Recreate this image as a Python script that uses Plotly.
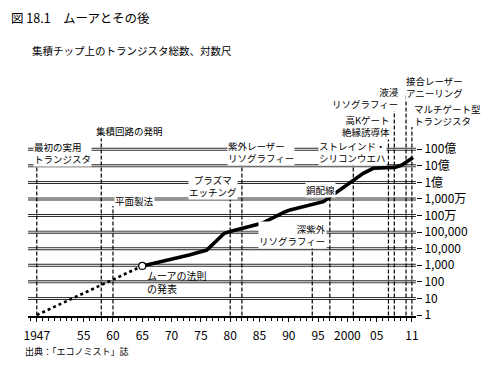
import plotly.graph_objects as go

# ---------------- data ----------------
# extrapolated (dotted) segment before Moore's 1965 paper
early_years = [1947, 1965]
early_counts = [1, 910]

# transistors per chip (solid curve)
curve_years = [1965, 1967, 1971, 1973, 1976, 1977.5, 1979, 1980.3, 1985.4, 1989.4,
               1990.2, 1995.9, 1996.7, 1999.9, 2002.7, 2004.4, 2008.1, 2009.3, 2011.2]
curve_counts = [910, 1300, 2600, 4200, 8300, 26000, 85000, 117000, 340000, 1700000,
                2200000, 6900000, 11000000, 70000000, 355000000, 710000000, 810000000,
                1120000000, 3200000000]

# technology milestones
event_years = [1947, 1958, 1960, 1980, 1982, 1994, 1997, 2001, 2007, 2008, 2010, 2011]
event_labels = [
    "最初の実用<br>トランジスタ",
    "集積回路の発明",
    "平面製法",
    "プラズマ<br>エッチング",
    "紫外レーザー<br>リソグラフィー",
    "深紫外<br>リソグラフィー",
    "銅配線",
    "ストレインド・<br>シリコンウエハ",
    "高Kゲート<br>絶縁誘導体",
    "液浸<br>リソグラフィー",
    "接合レーザー<br>アニーリング",
    "マルチゲート型<br>トランジスタ",
]
moore_label = "ムーアの法則<br>の発表"

# axis ticks
x_tickvals = [1947, 1955, 1960, 1965, 1970, 1975, 1980, 1985, 1990, 1995, 2000, 2005, 2011]
x_ticktext = ["1947", "55", "60", "65", "70", "75", "80", "85", "90", "95", "2000", "05", "11"]
y_tickvals = [1, 10, 100, 1e3, 1e4, 1e5, 1e6, 1e7, 1e8, 1e9, 1e10]
y_ticktext = ["1", "10", "100", "1,000", "10,000", "100,000", "100万", "1,000万", "1億", "10億", "100億"]

# ---------------- placement (layout only) ----------------
# top end of each milestone's dashed line (log10 units)
event_line_top = [9.11, 10.74, 6.58, 7.24, 9.17, 4.16, 7.24, 9.17, 10.74, 12.55, 13.28, 11.35]
# label placement: (x, xanchor, log10 y of label centre)
event_label_pos = [
    (1946.35, "left", 9.80),
    (1956.93, "left", 11.13),
    (1960.17, "left", 6.88),
    (1976.98, "center", 7.78),
    (1979.45, "left", 9.86),
    (1996.52, "right", 4.81),
    (1995.32, "center", 7.54),
    (1994.98, "left", 9.86),
    (2007.43, "right", 11.40),
    (2008.90, "right", 13.07),
    (2009.82, "left", 13.77),
    (2011.19, "left", 12.05),
]
moore_label_pos = (1965.46, 2.02)

XR = [1945.5, 2011.7]
YR = [-0.06, 14.48]
JP = "Noto Sans CJK JP"
NUM = "Liberation Sans Narrow, Noto Sans CJK JP"

fig = go.Figure()

# gridlines (double lines: dark wide line with white core)
for v in y_tickvals[1:]:
    fig.add_trace(go.Scatter(x=XR, y=[v, v], mode="lines",
                             line=dict(color="#2a2a2a", width=3),
                             hoverinfo="skip", showlegend=False))
    fig.add_trace(go.Scatter(x=XR, y=[v, v], mode="lines",
                             line=dict(color="white", width=1),
                             hoverinfo="skip", showlegend=False))

# milestone dashed lines
for yr, top in zip(event_years, event_line_top):
    fig.add_trace(go.Scatter(x=[yr, yr], y=[0.93, 10 ** top], mode="lines",
                             line=dict(color="black", width=1.2, dash="4px,2px"),
                             hoverinfo="skip", showlegend=False))

# dotted extrapolation
fig.add_trace(go.Scatter(x=early_years, y=early_counts, mode="lines",
                         line=dict(color="black", width=2.6, dash="dot"),
                         hoverinfo="skip", showlegend=False))
# main curve
fig.add_trace(go.Scatter(x=curve_years, y=curve_counts, mode="lines",
                         line=dict(color="black", width=3.6),
                         hoverinfo="skip", showlegend=False))
# Moore's law marker
fig.add_trace(go.Scatter(x=[curve_years[0]], y=[curve_counts[0]], mode="markers",
                         marker=dict(symbol="circle", size=7, color="white",
                                     line=dict(color="black", width=1.2)),
                         hoverinfo="skip", showlegend=False))

annotations = []
for txt, (xv, anchor, yv) in zip(event_labels, event_label_pos):
    annotations.append(dict(x=xv, y=yv, xref="x", yref="y", text=txt,
                            showarrow=False, xanchor=anchor, yanchor="middle",
                            align=anchor, bgcolor="white", borderpad=0,
                            font=dict(family=JP, size=9.5, color="black")))

annotations.append(dict(x=moore_label_pos[0], y=moore_label_pos[1], xref="x", yref="y",
                        text=moore_label, showarrow=False, xanchor="left",
                        yanchor="middle", align="left",
                        font=dict(family=JP, size=10, color="black")))

# titles and source (paper coords relative to plot area)
annotations += [
    dict(x=-0.0464, y=1.2373, xref="paper", yref="paper", text="図 18.1　ムーアとその後",
         showarrow=False, xanchor="left", yanchor="middle", borderpad=0,
         font=dict(family=JP, size=12.5, color="black")),
    dict(x=0.005, y=1.1037, xref="paper", yref="paper",
         text="集積チップ上のトランジスタ総数、対数尺",
         showarrow=False, xanchor="left", yanchor="middle",
         font=dict(family=JP, size=10.5, color="black")),
    dict(x=-0.0129, y=-0.149, xref="paper", yref="paper", text="出典：「エコノミスト」誌",
         showarrow=False, xanchor="left", yanchor="middle",
         font=dict(family=JP, size=9, color="black")),
]

# page body has an 8px margin: figure is sized so it ends at the window edge
fig.update_layout(
    width=484, height=361,
    margin=dict(l=20, r=76, t=67, b=53),
    paper_bgcolor="white", plot_bgcolor="white",
    showlegend=False,
    annotations=annotations,
    xaxis=dict(range=XR, tickvals=x_tickvals, ticktext=x_ticktext,
               showgrid=False, zeroline=False, showline=True,
               linecolor="black", linewidth=1.5,
               ticks="outside", ticklen=4, tickcolor="black", tickwidth=1,
               ticklabelstandoff=4,
               minor=dict(dtick=1, tick0=1947, ticks="outside", ticklen=3,
                          tickcolor="black", showgrid=False),
               tickfont=dict(family=NUM, size=12, color="black")),
    yaxis=dict(type="log", range=YR, side="right",
               tickvals=y_tickvals, ticktext=y_ticktext,
               showgrid=False, zeroline=False, showline=False,
               ticks="outside", ticklen=5, tickcolor="black", tickwidth=1.2,
               tickfont=dict(family=NUM, size=12, color="black")),
)

fig.write_html("out.html")
